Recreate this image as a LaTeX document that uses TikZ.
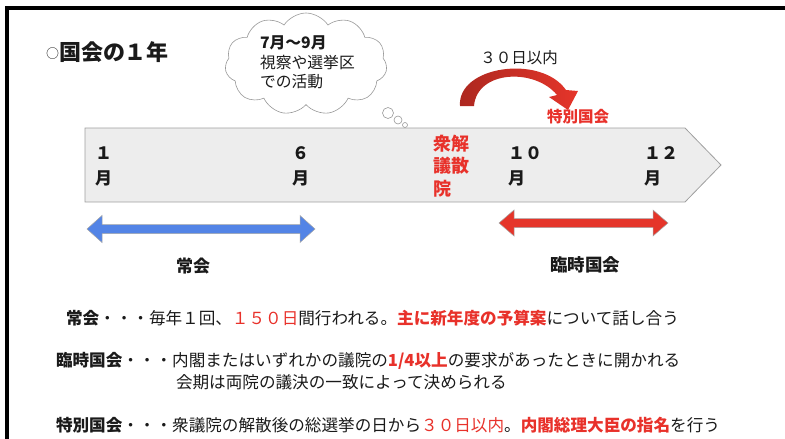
\documentclass[tikz,border=0pt]{standalone}
\usepackage{fontspec}
\setmainfont{Noto Sans CJK JP}
\usetikzlibrary{shapes.symbols}
\definecolor{tred}{HTML}{E8312A}
\definecolor{tblue}{HTML}{5384E6}
\definecolor{arred}{HTML}{E5352A}
\definecolor{tlgray}{HTML}{EDEDED}
\definecolor{tlline}{HTML}{A0A0A0}
\definecolor{txt}{HTML}{1A1A1A}
\tikzset{
  lbl/.style={inner sep=0pt, outer sep=0pt, text=txt},
  month/.style={lbl, anchor=west, align=left, font=\fontsize{17}{25}\selectfont\bfseries},
  body/.style={lbl, anchor=west, font=\fontsize{16.6}{20}\selectfont},
  bubble/.style={draw=gray!80, line width=0.6pt, fill=white},
}
\begin{document}
\begin{tikzpicture}[x=1pt,y=-1pt]
\useasboundingbox (0,0) rectangle (785,439);
% frame
\draw[line width=4pt] (5,8) -- (785,8);
\draw[line width=4pt] (7,6) -- (7,439);

% title
\node[lbl, anchor=west, font=\fontsize{22}{24}\selectfont\bfseries] (title) at (46,52) {\raisebox{1.5pt}{\fontsize{13}{14}\selectfont\mdseries ○}国会の１年};

% cloud
\node[cloud, cloud puffs=11, cloud puff arc=115, aspect=1.75, bubble, minimum width=162pt, minimum height=102pt] (cloud) at (306,64) {};
\draw[bubble] (388,113) circle (5.5);
\draw[bubble] (398,120) circle (4);
\draw[bubble] (405,125) circle (2.5);
\node[lbl, anchor=west, align=left, font=\fontsize{15.8}{19.5}\selectfont] (cloudtxt) at (260,62.5) {\textbf{7月〜9月}\\視察や選挙区\\での活動};

% 30 days arrow
\node[lbl, font=\fontsize{15.5}{17}\selectfont] (days) at (519,58) {３０日以内};
\shade[left color=arred!75!black, right color=arred]
  (460,106) .. controls (457,66) and (541,54) .. (566,90)
  -- (578,91) -- (568,110) -- (549,97) -- (557,95)
  .. controls (535,68) and (477,70) .. (474,106) -- cycle;
\node[lbl, text=tred, font=\fontsize{15.5}{17}\selectfont\bfseries] (tokubetsu) at (578,117) {特別国会};

% timeline
\draw[fill=tlgray, draw=tlline, line width=0.8pt] (85,128) -- (685,128) -- (721,165) -- (685,202) -- (85,202) -- cycle;
\node[month] (m1) at (95,166) {１\\月};
\node[month] (m6) at (292,166) {６\\月};
\node[month] (m10) at (508,166) {１０\\月};
\node[month] (m12) at (644,166) {１２\\月};
\node[lbl, anchor=west, align=left, text=tred, font=\fontsize{18}{22.5}\selectfont\bfseries] (kaisan) at (433,166) {衆解\\議散\\院};

% double arrows
\draw[fill=tblue, draw=gray!70, line width=0.5pt]
  (87,229) -- (102,215.5) -- (102,224.5) -- (300,224.5) -- (300,215.5) -- (315,229)
  -- (300,242.5) -- (300,233.5) -- (102,233.5) -- (102,242.5) -- cycle;
\draw[fill=arred, draw=gray!70, line width=0.5pt]
  (499,223) -- (514,210) -- (514,218.5) -- (653,218.5) -- (653,210) -- (668,223)
  -- (653,236) -- (653,227.5) -- (514,227.5) -- (514,236) -- cycle;
\node[lbl, font=\fontsize{17}{19}\selectfont\bfseries] (joukai) at (193,266) {常会};
\node[lbl, font=\fontsize{17.5}{19}\selectfont\bfseries] (rinji) at (585,265) {臨時国会};

% bottom text
\node[body] (l1) at (66,318) {\textbf{常会}・・・毎年１回、\textcolor{tred}{１５０日}間行われる。\textcolor{tred}{\textbf{主に新年度の予算案}}について話し合う};
\node[body] (l2) at (56,361) {\textbf{臨時国会}・・・内閣またはいずれかの議院の\textcolor{tred}{\textbf{1/4以上}}の要求があったときに開かれる};
\node[body] (l3) at (176,382) {会期は両院の議決の一致によって決められる};
\node[body] (l4) at (56,425) {\textbf{特別国会}・・・衆議院の解散後の総選挙の日から\textcolor{tred}{３０日以内}。\textcolor{tred}{\textbf{内閣総理大臣の指名}}を行う};
\end{tikzpicture}
\end{document}
